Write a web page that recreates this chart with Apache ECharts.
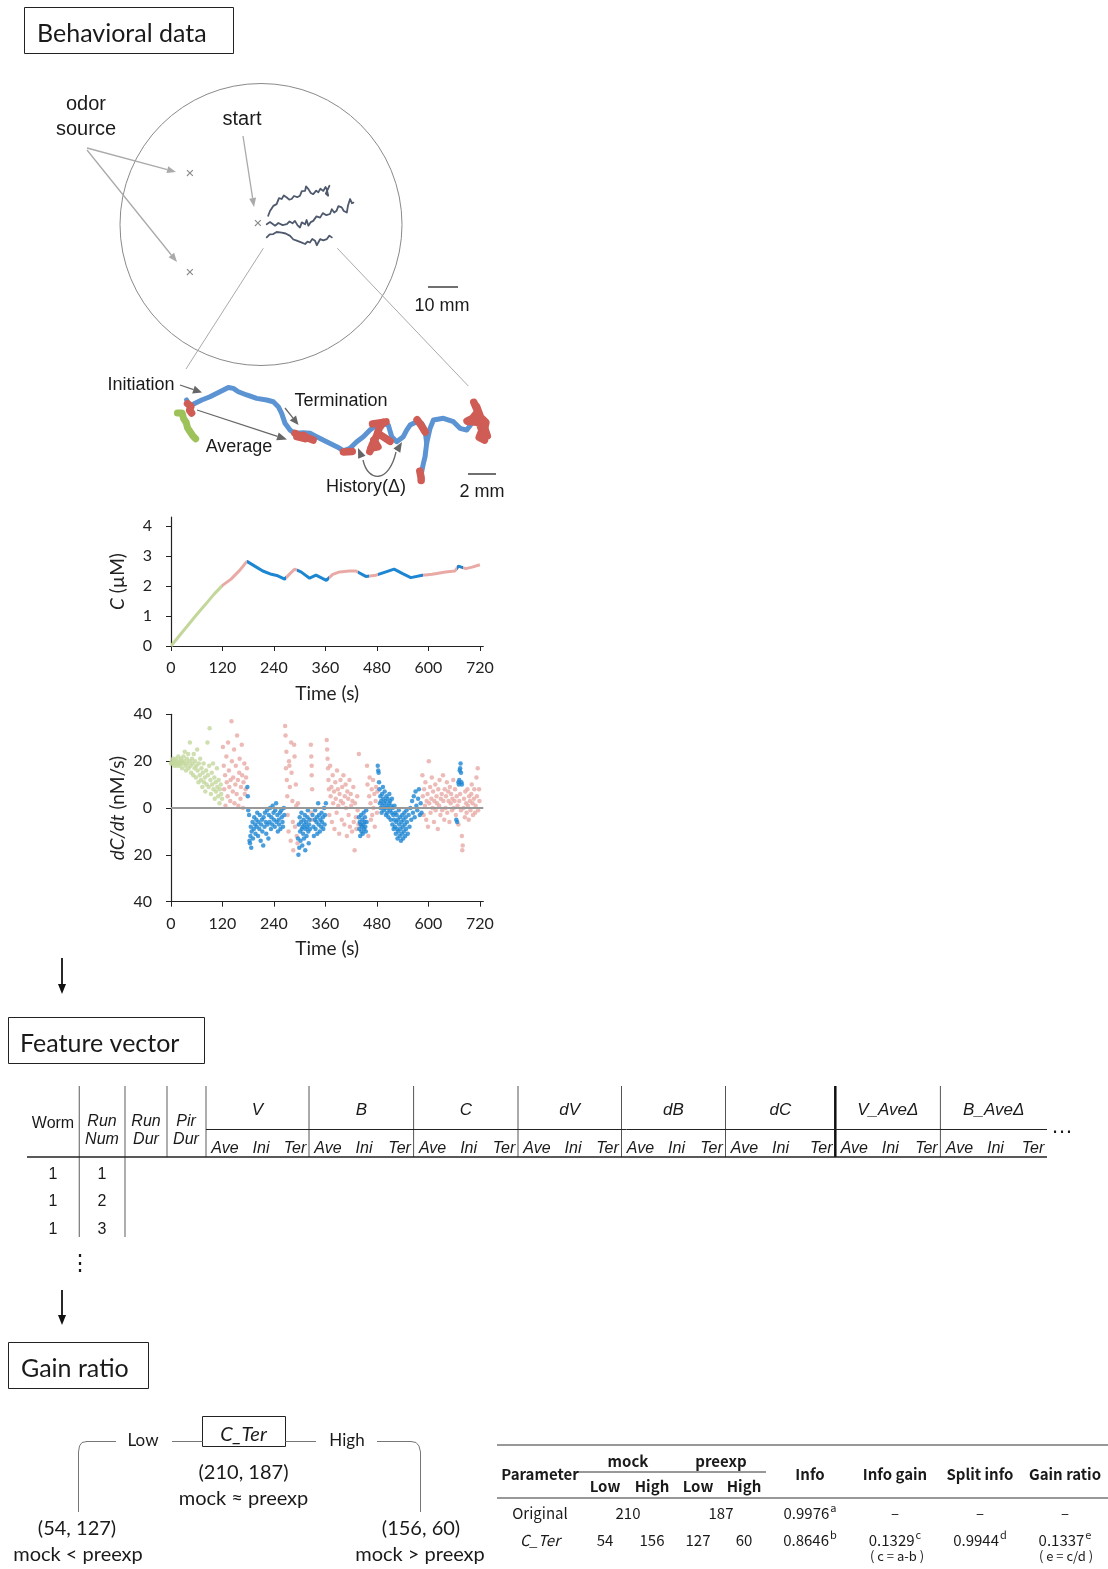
<!DOCTYPE html>
<html><head><meta charset="utf-8">
<script src="https://cdn.jsdelivr.net/npm/echarts@6/dist/echarts.min.js"></script>
<style>html,body{margin:0;padding:0;background:#fff}#c{width:1108px;height:1569px}</style>
</head><body><div id="c"></div><script>
// ================= DATA =================
const timeTicks = [0, 120, 240, 360, 480, 600, 720];
const cTicks = [0, 1, 2, 3, 4];
const dTicks = [-40, -20, 0, 20, 40];

// concentration C (uM) along the track
const cTime  = [0,20,40,60,80,100,120,140,160,177,199,214,234,249,265,278,288,303,323,338,362,377,393,416,431,454,478,501,520,540,559,586,609,640,662,670,687,702,720];
const cValue = [0,0.35,0.7,1.05,1.38,1.72,2.02,2.23,2.52,2.82,2.63,2.5,2.39,2.34,2.23,2.42,2.56,2.47,2.26,2.36,2.19,2.39,2.47,2.5,2.5,2.32,2.36,2.47,2.56,2.41,2.28,2.36,2.39,2.47,2.5,2.66,2.58,2.63,2.71];

// behavioural state segments (time ranges)
const segStart = [0,120,177,268,293,368,436,462,482,588,666,680];
const segEnd   = [120,177,268,293,368,436,462,482,588,666,680,730];
const segState = ['green','pink','blue','pink','blue','pink','blue','pink','blue','pink','blue','pink'];

// dC/dt (nM/s) samples [time, value]
const greenPts = [[0,19],[2,20],[4,19],[5,21],[7,20],[8,18],[10,19],[11,21],[13,20],[14,18],[16,19],[17,22],[19,20],[20,18],[22,19],[23,21],[25,20],[26,17],[28,19],[29,22],[31,20],[32,24],[34,18],[35,16],[37,21],[38,19],[40,23],[41,17],[43,20],[44,28],[46,18],[47,15],[49,21],[50,19],[52,14],[53,23],[55,17],[56,20],[58,13],[59,18],[61,25],[62,16],[64,11],[65,19],[67,14],[68,21],[70,12],[71,17],[73,9],[74,15],[76,19],[77,11],[79,13],[80,7],[82,16],[83,10],[85,28],[86,14],[88,9],[89,18],[90,34],[92,12],[93,6],[95,15],[96,10],[98,19],[99,8],[101,13],[102,4],[104,11],[105,7],[107,17],[108,9],[110,5],[111,12],[113,2],[114,8],[116,10],[117,6],[119,4]];
const pinkPts = [[121,26],[123,18],[124,8],[126,14],[127,1],[129,22],[130,11],[132,5],[133,28],[135,16],[136,9],[138,3],[139,12],[141,37],[142,20],[144,7],[145,13],[147,25],[148,2],[150,10],[151,18],[153,6],[154,31],[156,12],[157,1],[159,15],[160,21],[162,4],[163,9],[165,27],[166,14],[168,0],[169,11],[171,19],[172,6],[174,8],[175,13],[177,17],
 [266,35],[267,31],[268,17],[269,24],[270,12],[271,5],[272,-3],[274,-10],[275,20],[276,18],[277,9],[279,-14],[280,28],[281,15],[283,3],[284,-6],[285,-18],[287,27],[288,22],[289,-8],[291,10],[292,1],[293,-12],[295,-15],[296,2],
 [326,27],[327,22],[328,18],[328,14],[329,8],[327,-2],[328,-5],
 [363,29],[364,25],[365,21],[366,17],[367,12],[368,8],[369,-3],[371,18],[372,5],[374,9],[375,-6],[377,14],[378,2],[380,7],[381,-9],[383,11],[384,4],[386,-2],[387,16],[389,8],[390,1],[392,-11],[393,6],[395,12],[396,3],[398,-5],[399,9],[401,2],[402,14],[404,-7],[405,5],[407,10],[408,0],[410,-12],[411,7],[413,4],[414,-3],[416,12],[417,-8],[419,6],[420,1],[422,-10],[423,3],[425,9],[426,-6],[428,-18],[429,2],[431,-4],[432,-9],[434,5],[435,-1],[437,-7],[438,23],
 [457,18],[458,10],[460,-12],[462,5],[463,13],[465,2],[466,-5],[468,8],[469,-3],[471,12],[472,0],[474,6],[475,-8],[477,3],[478,9],[480,-2],[481,7],
 [586,14],[587,5],[589,-3],[590,8],[592,1],[593,11],[595,-5],[596,3],[598,6],[599,-8],[601,20],[602,2],[604,9],[605,-2],[607,4],[608,13],[610,0],[611,7],[613,-6],[614,3],[616,10],[617,-1],[619,5],[620,2],[622,-9],[623,8],[625,1],[626,12],[628,-3],[629,4],[631,6],[632,-1],[634,14],[635,3],[637,-5],[638,8],[640,0],[641,5],[643,11],[644,-2],[646,7],[647,3],[649,-6],[650,9],[652,2],[653,6],[655,-1],[656,4],[658,12],[659,0],[661,3],[662,8],[664,-3],[666,5],[668,1],[670,-7],[672,3],[674,6],[676,-1],[678,-12],[679,-18],[680,-16],[682,0],[683,4],[685,-4],[686,7],[688,2],[689,-2],[691,8],[692,1],[694,-5],[695,5],[697,3],[698,-1],[700,6],[701,10],[703,2],[704,-3],[706,4],[707,8],[709,-2],[710,1],[712,13],[713,5],[715,17],[716,-1],[718,8],[719,3]];
const bluePts = [[178,9],[179,5],[180,-1],[182,-3],[183,-14],[184,-15],[185,-12],[186,-8],[187,-17],[188,-10],[190,-6],[191,-13],[193,-9],[194,-4],[196,-7],[197,-11],[199,-5],[200,-8],[201,-2],[203,-12],[204,-6],[206,-9],[207,-3],[209,-14],[210,-7],[212,-5],[213,-10],[215,-16],[216,-4],[218,-8],[219,-2],[221,-6],[222,-11],[224,-1],[225,-7],[227,-13],[228,-3],[230,-6],[231,0],[233,-9],[234,-4],[236,-7],[237,1],[239,-2],[240,-5],[242,-8],[243,-1],[245,2],[246,-6],[248,-3],[249,-10],[251,-5],[252,-7],[254,-2],[255,-9],[257,-1],[258,-4],[260,-6],[261,-8],[263,0],[264,-3],
 [296,-13],[297,-20],[298,-7],[299,-17],[300,-4],[301,-10],[302,-14],[303,-6],[304,-2],[305,-9],[306,-16],[307,-8],[308,-11],[309,-5],[310,-13],[311,-7],[312,-3],[313,-18],[314,-9],[315,-6],[316,-12],[317,-8],[318,-4],[319,-1],[320,-10],[321,-15],[322,-7],[323,-5],[324,-9],
 [330,-3],[332,-8],[333,-12],[335,-5],[336,-1],[337,-9],[339,-6],[340,-4],[341,-11],[343,2],[344,-7],[345,-3],[347,-10],[348,-5],[350,-8],[351,-2],[352,-6],[354,-4],[355,-9],[357,0],[358,-7],[359,-3],[361,2],
 [438,-4],[439,-9],[440,-6],[441,-12],[442,-7],[443,-3],[444,-10],[445,-8],[446,-5],[447,-11],[448,-7],[449,-2],[450,-9],[451,-6],[452,-4],[453,-8],[454,-10],[455,-1],[456,-6],
 [482,18],[483,16],[484,15],[485,11],[486,8],[487,2],[488,5],[489,0],[490,3],[491,-2],[492,6],[493,1],[494,9],[495,4],[496,-1],[497,2],[498,7],[499,0],[500,3],[501,-3],[502,5],[503,1],[504,-2],[505,4],[506,0],[507,-4],[508,2],[509,6],[510,-1],[511,3],[512,-5],[513,1],[514,-2],[515,4],[516,-7],[517,0],[518,-3],[519,-9],[520,-5],[521,1],[522,-8],[523,-2],[524,-11],[525,-6],[526,-3],[527,-9],[528,-13],[529,-5],[530,-10],[531,-1],[532,-7],[533,-12],[534,-4],[535,-9],[536,-14],[537,-6],[538,-11],[539,-3],[540,-8],[541,-13],[542,-5],[543,-10],[544,-2],[545,-7],[546,-12],[547,-4],[548,-9],[549,-1],[550,-6],[552,-11],[554,-3],[556,-8],[558,0],[560,-5],[562,3],[564,-2],[566,5],[568,-4],[570,7],[572,1],[574,-1],[576,4],[578,8],[580,-3],[582,2],[584,-2],
 [665,-5],[667,-6],[670,11],[671,10],[672,12],[673,16],[674,17],[675,19],[676,15],[677,11],[678,10]];

// zoomed single track (mm)
const runTrack = [[1.23,6.67],[1.41,6.30],[1.60,6.30],[2.35,6.67],[2.96,6.91],[3.70,7.28],[4.32,7.60],[4.69,7.53],[5.06,7.28],[5.68,7.04],[6.42,6.79],[7.16,6.67],[7.65,6.54],[8.02,6.17],[8.27,5.68],[8.52,4.94],[8.89,4.44],[9.26,4.20],[9.88,4.25],[10.37,4.20],[10.86,3.95],[11.60,3.58],[12.35,3.21],[12.84,2.91],[13.33,3.09],[13.83,3.58],[14.32,3.95],[14.81,4.44],[15.31,4.81],[15.80,4.94],[16.17,4.81],[16.42,3.95],[16.79,3.58],[17.28,3.95],[17.53,4.44],[17.78,4.81],[18.27,5.06],[18.64,4.94],[18.89,4.44],[19.01,3.46],[18.89,2.47],[18.77,1.98],[18.64,1.36]];
const runTrack2 = [[19.01,3.46],[19.26,4.57],[19.51,5.19],[20.25,5.31],[20.99,5.06],[21.48,4.57],[21.98,4.44],[22.35,4.94],[22.84,5.43]];
const pirBlobs = [
 [[1.30,6.4],[1.55,6.2],[1.45,5.9],[1.6,5.7]],
 [[9.26,4.2],[9.6,4.0],[9.9,4.05],[10.2,3.85],[10.6,3.7]],
 [[9.4,3.95],[10.0,3.8]],
 [[12.84,2.82],[13.5,2.85]],
 [[15.8,5.0],[15.5,4.6],[15.3,4.0],[15.0,3.4],[14.8,2.85]],
 [[15.1,3.7],[15.4,3.2],[14.9,3.1]],
 [[15.4,4.2],[16.0,3.8],[16.3,3.6]],
 [[15.0,4.9],[16.0,5.05]],
 [[18.3,5.2],[18.6,4.8],[18.9,4.3]],
 [[18.5,1.4],[18.6,0.9],[18.6,0.7]],
 [[22.5,6.5],[22.8,5.8],[22.4,5.3],[22.0,5.1],[22.9,5.0],[23.1,4.4],[22.9,3.9],[23.3,3.7],[23.3,4.6],[23.5,4.0]],
 [[22.7,6.2],[23.0,5.4],[23.4,5.0],[23.2,4.2]]
];
const initBlob = [[0.55,5.7],[0.9,5.7],[1.0,5.3],[1.2,5.0],[1.3,4.6],[1.5,4.3],[1.7,4.0],[1.9,3.8]];

// three tracks in the dish (mm, dish centre = 0,0)
const dishTrack1 = [[2.4,3.0],[3.0,4.6],[3.6,4.2],[4.1,6.3],[5.2,6.9],[6.0,8.9],[6.9,8.6],[7.6,9.8],[8.6,9.1],[9.4,8.4],[10.2,8.6],[11.0,9.6],[12.1,9.2],[13.0,9.7],[13.6,11.2],[14.7,11.3],[15.0,12.8],[15.8,11.9],[16.6,10.6],[17.4,10.2],[18.4,11.4],[19.1,10.8],[19.8,12.0],[20.8,11.3],[21.5,12.6],[21.9,11.9],[22.4,9.7],[21.6,10.4],[22.8,13.0]];
const dishTrack2 = [[1.9,0.2],[3.0,0.9],[4.7,-0.3],[5.8,0.6],[7.2,-0.1],[8.6,0.2],[9.5,1.1],[10.5,0.5],[11.3,1.3],[12.2,-0.2],[13.0,-0.9],[13.6,0.8],[14.7,0.2],[15.2,1.6],[15.8,-0.3],[16.6,0.9],[17.4,1.3],[18.5,2.8],[19.7,2.4],[20.6,3.9],[21.8,3.2],[23.0,3.6],[23.6,5.2],[24.4,4.1],[25.2,4.7],[25.8,6.2],[26.9,5.8],[27.6,4.6],[28.6,4.1],[29.0,6.4],[29.7,8.6],[30.3,7.2],[30.8,7.4]];
const dishTrack3 = [[1.9,-4.2],[2.9,-3.2],[4.1,-3.1],[5.2,-2.4],[6.9,-2.6],[8.2,-2.9],[9.7,-3.7],[10.8,-4.9],[11.9,-5.3],[13.2,-5.8],[14.7,-6.4],[15.5,-5.6],[16.3,-5.9],[17.1,-4.7],[18.0,-5.3],[18.6,-6.8],[19.7,-4.8],[20.8,-5.2],[21.9,-4.8],[22.8,-3.6],[23.6,-4.2]];

// feature table
const featGroups = ['V','B','C','dV','dB','dC','V_Ave\u0394','B_Ave\u0394'];
const featSubs = ['Ave','Ini','Ter'];
const featLeft = [['Worm'],['Run','Num'],['Run','Dur'],['Pir','Dur']];
const featWorm = [1,1,1];
const featRunNum = [1,2,3];

// gain-ratio tree & table
const rootCounts = [210,187];
const lowCounts = [54,127];
const highCounts = [156,60];
const paramNames = ['Original','C_Ter'];
const mockTotal = [210,null], preTotal = [187,null];
const mockLow = [null,54], mockHigh = [null,156], preLow = [null,127], preHigh = [null,60];
const infoVal = ['0.9976','0.8646'], infoSup = ['a','b'];
const gainVal = ['\u2013','0.1329'], gainSup = [null,'c'];
const splitVal = ['\u2013','0.9944'], splitSup = [null,'d'];
const ratioVal = ['\u2013','0.1337'], ratioSup = [null,'e'];

// ================= DRAW =================
const COL = {green:'#c3d79b', pink:'#e9aaa5', blue:'#1d86d2'};
const SANS = '"Liberation Sans", Arial, sans-serif';
const CAL = 'Lato, "Open Sans", sans-serif';
const GOTH = '"Noto Sans CJK JP", sans-serif';
const G = [];
const mctx = document.createElement('canvas').getContext('2d');
function tw(text, font){ mctx.font = font; return mctx.measureText(text).width; }
const DY = 2.5;
function txt(x, y, text, font, o){ o = o || {};
  G.push({type:'text', x:x, y:y+DY, silent:true, z:50, style:Object.assign({text:text, font:font, fill:o.fill||'#1a1a1a', align:o.align||'center', verticalAlign:o.va||'middle'}, o.style||{})}); }
function ln(x1,y1,x2,y2,stroke,w){ G.push({type:'line', silent:true, z:40, shape:{x1,y1,x2,y2}, style:{stroke:stroke, lineWidth:w||1}}); }
function pl(points, stroke, w){ G.push({type:'polyline', silent:true, z:40, shape:{points:points}, style:{stroke:stroke, lineWidth:w||1, fill:null}}); }
function head(x1,y1,x2,y2,color,hl,hw){ const a=Math.atan2(y2-y1,x2-x1); const bx=x2-hl*Math.cos(a), by=y2-hl*Math.sin(a);
  G.push({type:'polygon', silent:true, z:41, shape:{points:[[x2,y2],[bx+hw*Math.sin(a),by-hw*Math.cos(a)],[bx-hw*Math.sin(a),by+hw*Math.cos(a)]]}, style:{fill:color}}); return [bx,by]; }
function arrow(x1,y1,x2,y2,color,w,hl,hw){ const b=head(x1,y1,x2,y2,color,hl,hw); ln(x1,y1,b[0],b[1],color,w); }
function box(x,y,w,h){ G.push({type:'rect', silent:true, z:40, shape:{x,y,width:w,height:h}, style:{stroke:'#222', lineWidth:1, fill:null}}); }

// --- section boxes
box(24.5,7.5,209,46); txt(37,31,'Behavioral data','25px '+CAL,{align:'left'});
box(8.5,1017.5,196,46); txt(20,1041,'Feature vector','25px '+CAL,{align:'left'});
box(8.5,1342.5,140,46); txt(21,1366,'Gain ratio','25px '+CAL,{align:'left'});

// --- dish
G.push({type:'circle', silent:true, z:10, shape:{cx:261, cy:224.5, r:141}, style:{stroke:'#8a8a8a', lineWidth:1, fill:null}});
txt(190,171,'\u00d7','15px '+SANS,{fill:'#888'});
txt(190,270,'\u00d7','15px '+SANS,{fill:'#888'});
txt(258,221,'\u00d7','15px '+SANS,{fill:'#888'});
txt(86,102,'odor','20px '+SANS); txt(86,127,'source','20px '+SANS);
txt(242,117,'start','20px '+SANS);
arrow(87,148,176,172,'#aaa',1.3,9,3.5);
arrow(87,150,177,262,'#aaa',1.3,9,3.5);
arrow(243,136,254,207,'#aaa',1.3,9,3.5);
ln(428,287,458,287,'#222',1.3); txt(442,304,'10 mm','18px '+SANS);
ln(263.3,248.3,186,369,'#aaa',1); ln(337.3,248.3,468.3,386,'#aaa',1);

// --- zoomed track labels
txt(141,383,'Initiation','18px '+SANS);
txt(341,399,'Termination','18px '+SANS);
txt(239,445,'Average','18px '+SANS);
txt(366,485,'History(\u0394)','18px '+SANS);
ln(468,474,496,474,'#222',1.3); txt(482,490,'2 mm','18px '+SANS);
arrow(180,385,202,392.5,'#666',1.3,9,4);
arrow(197,410,287,439.5,'#666',1.3,10,4);
arrow(285,408,298.5,425,'#666',1.3,9,4);
G.push({type:'bezierCurve', silent:true, z:40, shape:{x1:363,y1:460,cpx1:368,cpy1:483,cpx2:389,cpy2:483,x2:396,y2:452}, style:{stroke:'#666', lineWidth:1.3, fill:null}});
head(363,460,358,448,'#666',10,4);
head(396,452,402,442,'#666',10,4);

// --- down arrows
arrow(62,958,62,994,'#111',1.8,10,4);
arrow(62,1290,62,1325,'#111',1.8,10,4);

// --- feature table
const colX = [79.3,125,167,206];
const grpX = [206,309,413.6,518,621.5,725.5,835.3,940.4,1047];
const leftCenters = [53,102,146,186];
featLeft.forEach((c,i)=>{
  if(c.length===1) txt(leftCenters[i],1121,c[0],'16px '+SANS);
  else { txt(leftCenters[i],1119,c[0],'italic 16px '+SANS); txt(leftCenters[i],1137,c[1],'italic 16px '+SANS); }
});
colX.forEach((x,i)=>ln(x,1086,x,i<2?1237:1157,'#777',1.2));
grpX.slice(1,-1).forEach((x)=>ln(x,1086,x,1157,x===835.3?'#111':'#555',x===835.3?2.5:1));
ln(206,1129.5,1047,1129.5,'#222',1);
ln(27,1157,1047,1157,'#222',1.3);
featGroups.forEach((g,i)=>{
  const a=grpX[i], b=grpX[i+1];
  txt((a+b)/2,1108,g,'italic 17px '+SANS);
  txt(a+19,1146,featSubs[0],'italic 16px '+SANS);
  txt(a+55,1146,featSubs[1],'italic 16px '+SANS);
  txt(b-14,1146,featSubs[2],'italic 16px '+SANS);
});
txt(1062,1124,'\u2026','22px '+SANS);
featWorm.forEach((w,i)=>{ const y=1172+i*27.5; txt(53,y,String(w),'16px '+SANS); txt(102,y,String(featRunNum[i]),'16px '+SANS); });
txt(80,1261,'\u22ee','22px '+SANS);

// --- tree
box(202.5,1416.5,83,30);
txt(243.5,1432.5,'C_Ter','italic 20px '+CAL);
ln(116,1441.5,86,1441.5,'#777',1);
ln(172,1441.5,202.5,1441.5,'#777',1);
ln(285.5,1441.5,316,1441.5,'#777',1);
ln(377,1441.5,412,1441.5,'#777',1);
pl([[87,1441.5],[82,1442.5],[79.5,1446],[78.5,1452],[78.5,1512]],'#777',1);
pl([[411,1441.5],[416,1442.5],[419,1446],[420.5,1452],[420.5,1512]],'#777',1);
txt(143,1438,'Low','17px '+CAL);
txt(347,1438,'High','17px '+CAL);
txt(243.5,1470,'('+rootCounts.join(', ')+')','20px '+CAL);
txt(243.5,1496,'mock \u2248 preexp','20px '+CAL);
txt(77,1526,'('+lowCounts.join(', ')+')','20px '+CAL);
txt(78,1552,'mock < preexp','20px '+CAL);
txt(421,1526,'('+highCounts.join(', ')+')','20px '+CAL);
txt(420,1552,'mock > preexp','20px '+CAL);

// --- gain table
const HB = 'bold 15px '+GOTH, HR = '15px '+GOTH;
ln(497,1445,1108,1445,'#333',1.2);
ln(574,1472,766,1472,'#333',1.2);
ln(497,1498,1108,1498,'#333',1.2);
txt(540,1472,'Parameter',HB);
txt(628,1459,'mock',HB); txt(721,1459,'preexp',HB);
[['Low',605],['High',652],['Low',698],['High',744]].forEach(d=>txt(d[1],1484,d[0],HB));
txt(810,1472,'Info',HB); txt(895,1472,'Info gain',HB); txt(980,1472,'Split info',HB); txt(1065,1472,'Gain ratio',HB);
function withSup(cx,y,val,sup){
  const w = tw(val,HR);
  if(!sup){ txt(cx,y,val,HR); return; }
  const sw = tw(sup,'11px '+GOTH);
  const left = cx-(w+sw+1)/2;
  txt(left,y,val,HR,{align:'left'});
  txt(left+w+1,y-6,sup,'11px '+GOTH,{align:'left'});
}
paramNames.forEach((p,i)=>{
  const y = 1511+i*27;
  txt(540,y,p,(i===1?'italic ':'')+HR);
  if(mockTotal[i]!=null) txt(628,y,String(mockTotal[i]),HR);
  if(preTotal[i]!=null) txt(721,y,String(preTotal[i]),HR);
  if(mockLow[i]!=null){ txt(605,y,String(mockLow[i]),HR); txt(652,y,String(mockHigh[i]),HR); txt(698,y,String(preLow[i]),HR); txt(744,y,String(preHigh[i]),HR); }
  withSup(810,y,infoVal[i],infoSup[i]);
  withSup(895,y,gainVal[i],gainSup[i]);
  withSup(980,y,splitVal[i],splitSup[i]);
  withSup(1065,y,ratioVal[i],ratioSup[i]);
});
txt(897,1554,'( c = a-b )','13px '+GOTH);
txt(1066,1554,'( e = c/d )','13px '+GOTH);

// ================= CHART =================
const axisCol = '#222';
function timeAxis(gi){ return {gridIndex:gi, type:'value', min:0, max:728,
  axisLine:{onZero:false, lineStyle:{color:axisCol, width:1.2}},
  axisTick:{customValues:timeTicks, length:5, lineStyle:{color:axisCol}},
  axisLabel:{customValues:timeTicks, fontFamily:'Lato', fontSize:16, color:'#222', margin:14},
  splitLine:{show:false}, name:'Time (s)', nameLocation:'middle', nameGap:38,
  nameTextStyle:{fontFamily:'Lato', fontSize:19, color:'#222'}}; }
const hid = (gi,min,max)=>({gridIndex:gi, type:'value', min:min, max:max, show:false});
const trackLine = (gi,data,color,w)=>({type:'line', xAxisIndex:gi, yAxisIndex:gi, data:data, showSymbol:false, silent:true,
  lineStyle:{color:color, width:w, cap:'round', join:'round'}, z:5});

const series = [
 {type:'line', xAxisIndex:0, yAxisIndex:0, data:cTime.map((t,i)=>[t,cValue[i]]), showSymbol:false, lineStyle:{width:3}, z:5},
 {type:'scatter', xAxisIndex:1, yAxisIndex:1, data:greenPts, symbolSize:4.5, itemStyle:{color:COL.green},
   markLine:{silent:true, symbol:'none', animation:false, label:{show:false}, lineStyle:{color:'#999', width:2, type:'solid'}, data:[{yAxis:0}]}},
 {type:'scatter', xAxisIndex:1, yAxisIndex:1, data:pinkPts, symbolSize:4.5, itemStyle:{color:COL.pink}},
 {type:'scatter', xAxisIndex:1, yAxisIndex:1, data:bluePts, symbolSize:4.5, itemStyle:{color:COL.blue}},
 trackLine(2, runTrack, '#5b93d3', 5),
 trackLine(2, runTrack2, '#5b93d3', 5),
 trackLine(2, initBlob, '#9dc25a', 7),
 ...pirBlobs.map(b=>trackLine(2, b, '#cf5c55', 7.5)),
 trackLine(3, dishTrack1, '#4f596d', 1.8),
 trackLine(3, dishTrack2, '#4f596d', 1.8),
 trackLine(3, dishTrack3, '#4f596d', 1.8)
];

const option = {
  animation:false,
  backgroundColor:'#fff',
  grid:[
    {left:171, top:517, width:312.3, height:129},
    {left:171, top:714.3, width:312.3, height:187.4},
    {left:170, top:380, width:325, height:110},
    {left:119.7, top:83.5, width:282.6, height:282.6}
  ],
  xAxis:[ timeAxis(0), timeAxis(1), hid(2,0,24.07), hid(3,-47.1,47.1) ],
  yAxis:[
    {gridIndex:0, type:'value', min:0, max:4.3,
      axisLine:{show:true, onZero:false, lineStyle:{color:axisCol, width:1.2}},
      axisTick:{show:true, customValues:cTicks, length:5, lineStyle:{color:axisCol}},
      axisLabel:{customValues:cTicks, fontFamily:'Lato', fontSize:16, color:'#222', margin:19},
      splitLine:{show:false}, name:'{i|C} (\u00b5M)', nameLocation:'middle', nameGap:44,
      nameTextStyle:{fontFamily:'Lato', fontSize:19, color:'#222', rich:{i:{fontFamily:'Lato', fontSize:19, fontStyle:'italic', color:'#222'}}}},
    {gridIndex:1, type:'value', min:-40, max:40,
      axisLine:{show:true, onZero:false, lineStyle:{color:axisCol, width:1.2}},
      axisTick:{show:true, customValues:dTicks, length:5, lineStyle:{color:axisCol}},
      axisLabel:{customValues:dTicks, formatter:v=>String(Math.abs(v)), fontFamily:'Lato', fontSize:16, color:'#222', margin:19},
      splitLine:{show:false}, name:'{i|dC/dt} (nM/s)', nameLocation:'middle', nameGap:44,
      nameTextStyle:{fontFamily:'Lato', fontSize:19, color:'#222', rich:{i:{fontFamily:'Lato', fontSize:19, fontStyle:'italic', color:'#222'}}}},
    hid(2,0,8.15), hid(3,-47.1,47.1)
  ],
  visualMap:[{type:'piecewise', show:false, dimension:0, seriesIndex:0,
    pieces:segStart.map((s,i)=>({gte:s, lt:segEnd[i], color:COL[segState[i]]}))}],
  series:series,
  graphic:{elements:G}
};
const chart = echarts.init(document.getElementById('c'), null, {renderer:'canvas'});
chart.setOption(option);
</script></body></html>
